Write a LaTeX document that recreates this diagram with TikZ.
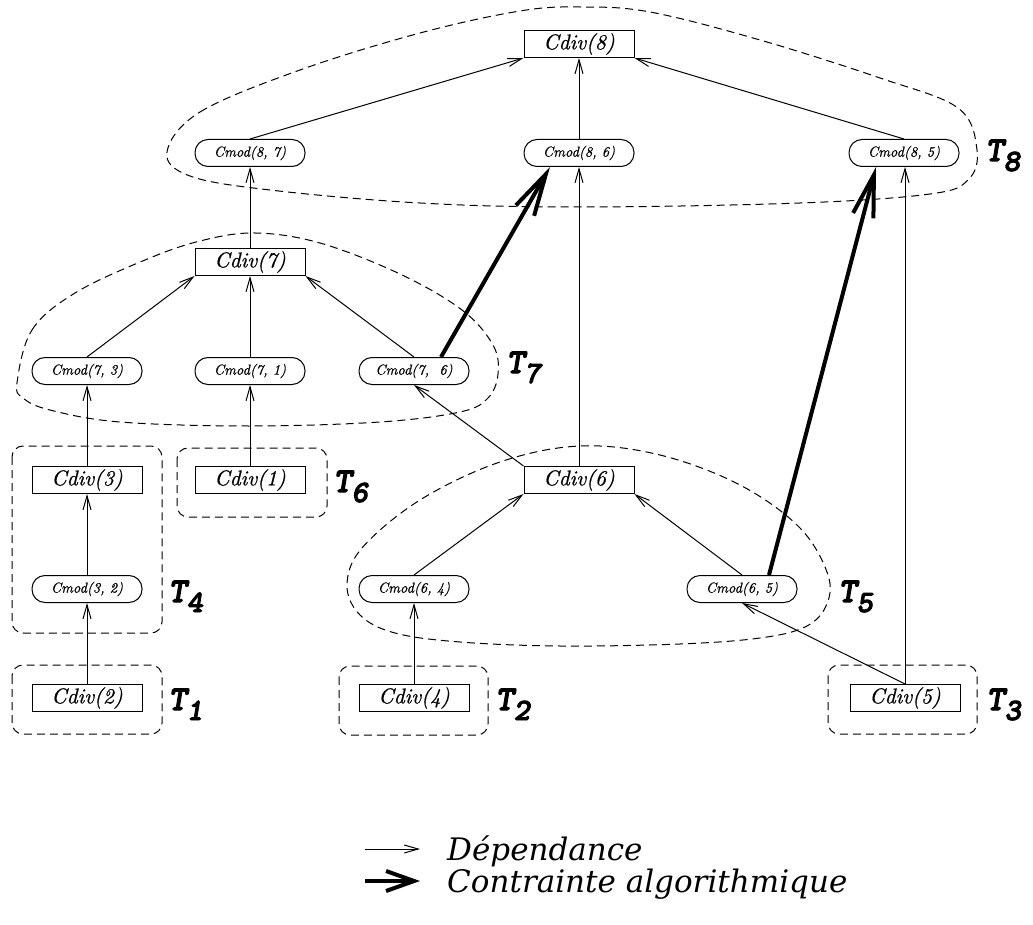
\documentclass[tikz,border=0pt]{standalone}
\usepackage{fontspec}
\usetikzlibrary{arrows.meta,calc}
\newfontfamily\nodefamily{lmroman10-italic.otf}[FakeBold=0.7]
\newfontfamily\legfamily{DejaVu Serif}
\newfontfamily\tfamily{lmmonolt10-boldoblique.otf}[FakeBold=3]
\newcommand{\tlabel}[1]{{\tfamily\fontsize{35}{35}\selectfont T\raisebox{-10pt}{\fontsize{31}{31}\selectfont #1}}}
\begin{document}
\begin{tikzpicture}[x=1pt,y=-1pt,
  cdiv/.style={draw, line width=1pt, minimum width=110pt, minimum height=27pt, inner sep=0pt,
    font=\nodefamily\fontsize{21.5}{21.5}\selectfont},
  cmod/.style={draw, line width=1pt, rounded corners=13pt, minimum width=110pt, minimum height=27pt, inner sep=0pt,
    font=\nodefamily\fontsize{14.4}{14.4}\selectfont},
  dep/.style={line width=1pt, -{Straight Barb[length=14pt,width=8pt]}},
  algo/.style={line width=4pt, -{Straight Barb[length=42pt,width=21pt]}},
  grp/.style={line width=1pt, dash pattern=on 8pt off 5pt},
  grpbox/.style={grp, rounded corners=11pt},
  tlab/.style={anchor=base west, inner sep=0pt},
  legend/.style={anchor=base west, inner sep=0pt, font=\legfamily\itshape\fontsize{31}{31}\selectfont}]
\useasboundingbox (0,0) rectangle (1033,925);

% task groups
\draw[grp] plot[smooth cycle, tension=0.6] coordinates {
  (167,152) (200,112) (300,70) (420,33) (520,11) (580,7) (650,12)
  (760,40) (880,78) (958,108) (977,150) (968,180) (930,194)
  (800,203) (580,207) (420,203) (270,190) (190,176)};
\draw[grp] plot[smooth cycle, tension=0.6] coordinates {
  (17,383) (32,330) (75,293) (145,260) (200,241) (255,233) (320,243)
  (400,274) (462,310) (493,345) (498,374) (488,398) (460,412)
  (380,422) (250,426) (120,422) (50,410) (23,398)};
\draw[grp] plot[smooth cycle, tension=0.6] coordinates {
  (347,585) (362,548) (420,500) (500,462) (580,446) (660,455)
  (740,485) (800,528) (828,575) (826,606) (805,627) (760,638)
  (680,644) (560,646) (460,642) (395,633) (360,615)};
\draw[grpbox] (177,448) rectangle (327,517);
\draw[grpbox] (12,446) rectangle (162,633);
\draw[grpbox] (12,665) rectangle (162,734);
\draw[grpbox] (339,666) rectangle (488,735);
\draw[grpbox] (828,665) rectangle (977,734);

% tasks
\node[cdiv] (c8) at (579,44) {Cdiv(8)};
\node[cmod] (m87) at (250,153) {Cmod(8, 7)};
\node[cmod] (m86) at (579,153) {Cmod(8, 6)};
\node[cmod] (m85) at (904,153) {Cmod(8, 5)};
\node[cdiv] (c7) at (250,262) {Cdiv(7)};
\node[cmod] (m73) at (87,371) {Cmod(7, 3)};
\node[cmod] (m71) at (250,371) {Cmod(7, 1)};
\node[cmod] (m76) at (414,371) {Cmod(7,\ \ 6)};
\node[cdiv] (c3) at (87,480) {Cdiv(3)};
\node[cdiv] (c1) at (250,480) {Cdiv(1)};
\node[cdiv] (c6) at (579,480) {Cdiv(6)};
\node[cmod] (m32) at (87,589) {Cmod(3, 2)};
\node[cmod] (m64) at (414,589) {Cmod(6, 4)};
\node[cmod] (m65) at (742,589) {Cmod(6, 5)};
\node[cdiv] (c2) at (87,698) {Cdiv(2)};
\node[cdiv] (c4) at (414,698) {Cdiv(4)};
\node[cdiv] (c5) at (905,698) {Cdiv(5)};

% dependences
\draw[dep] (m87.north) -- (c8.south west);
\draw[dep] (m86.north) -- (c8.south);
\draw[dep] (m85.north) -- (c8.south east);
\draw[dep] (c7.north) -- (m87.south);
\draw[dep] (m73.north) -- (c7.south west);
\draw[dep] (m71.north) -- (c7.south);
\draw[dep] (m76.north) -- (c7.south east);
\draw[dep] (c3.north) -- (m73.south);
\draw[dep] (c1.north) -- (m71.south);
\draw[dep] (m32.north) -- (c3.south);
\draw[dep] (c2.north) -- (m32.south);
\draw[dep] (c6.north west) -- (m76.south);
\draw[dep] (c6.north) -- (m86.south);
\draw[dep] (m64.north) -- (c6.south west);
\draw[dep] (m65.north) -- (c6.south east);
\draw[dep] (c4.north) -- (m64.south);
\draw[dep] (c5.north) -- (m65.south);
\draw[dep] (c5.north) -- (c5.north |- m85.south);

% algorithmic constraints
\draw[algo] ([xshift=27pt]m76.north) -- ([xshift=-29pt]m86.south);
\draw[algo] ([xshift=27pt]m65.north) -- ([xshift=-28pt]m85.south);

% group labels
\node[tlab] (t8) at (985,161) {\tlabel{8}};
\node[tlab] (t7) at (506,373) {\tlabel{7}};
\node[tlab] (t6) at (333,492) {\tlabel{6}};
\node[tlab] (t4) at (168,602) {\tlabel{4}};
\node[tlab] (t1) at (168,710) {\tlabel{1}};
\node[tlab] (t2) at (495,710) {\tlabel{2}};
\node[tlab] (t5) at (838,602) {\tlabel{5}};
\node[tlab] (t3) at (986,710) {\tlabel{3}};

% legend
\coordinate (la1) at (365,849);
\coordinate (lb1) at (420,849);
\coordinate (la2) at (365,881);
\coordinate (lb2) at (420,881);
\draw[dep] (la1) -- (lb1);
\draw[line width=4pt, -{Straight Barb[length=28pt,width=20pt]}] (la2) -- (lb2);
\node[legend] (ldep) at (447,860) {Dépendance};
\node[legend] (lalg) at (447,892) {Contrainte algorithmique};
\end{tikzpicture}
\end{document}
